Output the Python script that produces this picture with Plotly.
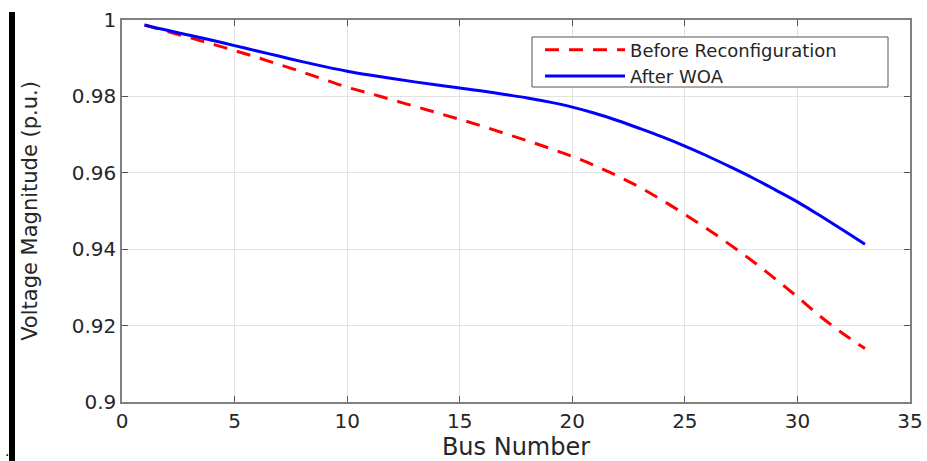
import plotly.graph_objects as go

bus = list(range(1, 34))
before_reconfig = [0.9987, 0.9970, 0.9954, 0.9937, 0.9920, 0.9902, 0.9883, 0.9864, 0.9844, 0.9824,
                   0.9808, 0.9791, 0.9774, 0.9757, 0.9740, 0.9722, 0.9703, 0.9684, 0.9664, 0.9643,
                   0.9619, 0.9592, 0.9562, 0.9528, 0.9491, 0.9453, 0.9412, 0.9369, 0.9323, 0.9275,
                   0.9225, 0.9180, 0.9140]
after_woa = [0.9987, 0.9973, 0.9960, 0.9947, 0.9933, 0.9919, 0.9905, 0.9891, 0.9878, 0.9866,
             0.9856, 0.9847, 0.9838, 0.9830, 0.9822, 0.9814, 0.9805, 0.9796, 0.9785, 0.9772,
             0.9756, 0.9737, 0.9716, 0.9694, 0.9670, 0.9644, 0.9616, 0.9587, 0.9556, 0.9524,
             0.9488, 0.9451, 0.9413]
x_ticks = [0, 5, 10, 15, 20, 25, 30, 35]
y_ticks = [0.9, 0.92, 0.94, 0.96, 0.98, 1.0]
y_tick_labels = ["0.9", "0.92", "0.94", "0.96", "0.98", "1"]

FONT = "DejaVu Sans, Liberation Sans, Arial, sans-serif"
TXT = "#262626"

fig = go.Figure()
fig.add_trace(go.Scatter(x=bus, y=before_reconfig, mode="lines", name="Before Reconfiguration",
                         line=dict(color="#ff0000", width=3, dash="14px,10px"), line_shape="spline"))
fig.add_trace(go.Scatter(x=bus, y=after_woa, mode="lines", name="After WOA",
                         line=dict(color="#0000ff", width=3), line_shape="spline"))

axis_common = dict(showline=True, linecolor="#808080", linewidth=1.5, mirror="allticks",
                   ticks="inside", ticklen=6, tickcolor="#555555", showgrid=True,
                   gridcolor="#e3e3e3", gridwidth=1, zeroline=False,
                   tickfont=dict(family=FONT, size=20, color=TXT))

fig.update_xaxes(range=[0, 35], tickvals=x_ticks,
                 title=dict(text="Bus Number", font=dict(family=FONT, size=24, color=TXT), standoff=2),
                 **axis_common)
fig.update_yaxes(range=[0.9, 1.0], tickvals=y_ticks, ticktext=y_tick_labels,
                 title=dict(text="Voltage Magnitude (p.u.)", font=dict(family=FONT, size=21, color=TXT), standoff=28),
                 **axis_common)

fig.update_layout(
    width=927, height=461,
    margin=dict(l=122, r=17, t=20, b=59, autoexpand=False),
    paper_bgcolor="white", plot_bgcolor="white",
    font=dict(family=FONT, color=TXT),
    legend=dict(x=0.5305, y=0.9700, xanchor="left", yanchor="top",
                bgcolor="rgba(0,0,0,0)", borderwidth=0,
                font=dict(family=FONT, size=18, color=TXT),
                itemwidth=80, tracegroupgap=0),
    shapes=[
        dict(type="rect", xref="paper", yref="paper", x0=-0.1434, x1=-0.1358, y0=-0.1545, y1=1.021,
             fillcolor="black", line=dict(width=0)),
        # legend frame
        dict(type="rect", xref="paper", yref="paper", x0=0.5203, x1=0.9721, y0=0.8246, y1=0.9555,
             fillcolor="white", line=dict(color="#555555", width=1), layer="above"),
    ],
    annotations=[dict(text=".", xref="paper", yref="paper", x=-0.146, y=-0.128, showarrow=False,
                      xanchor="center", yanchor="middle", font=dict(family=FONT, size=14, color="black"))],
)

fig.write_html("out.html", config={"displayModeBar": False},
               post_script="document.body.style.margin='0';document.body.style.padding='0';")
